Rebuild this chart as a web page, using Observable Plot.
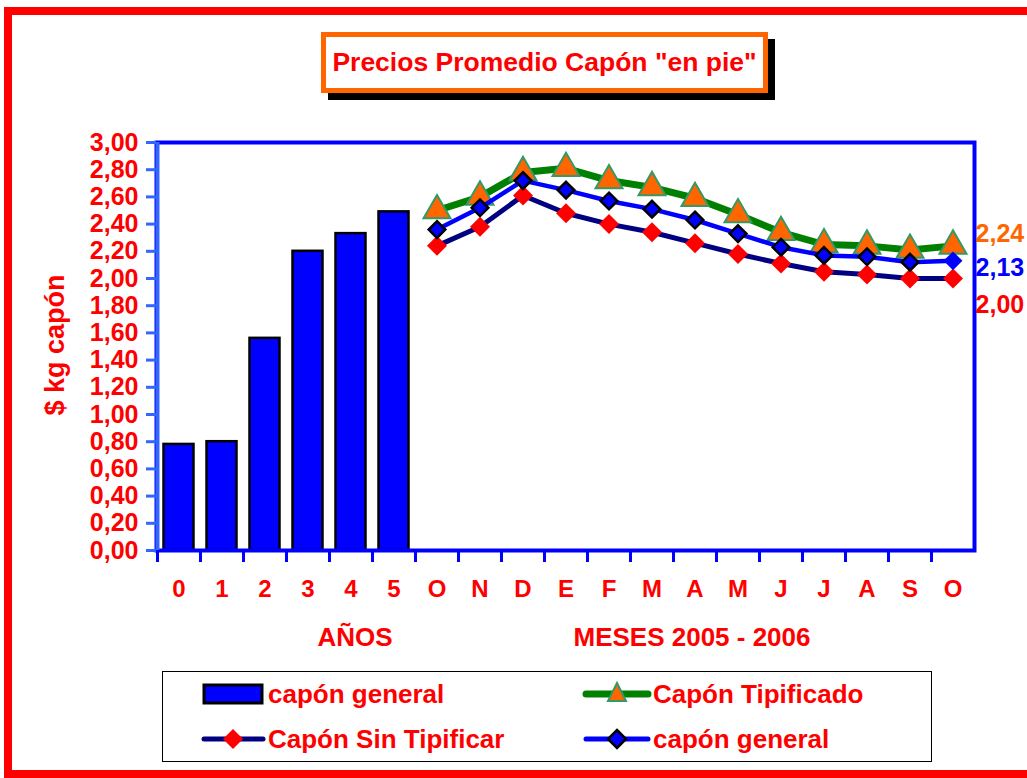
<!DOCTYPE html>
<html><head><meta charset="utf-8">
<script src="https://cdn.jsdelivr.net/npm/d3@7"></script>
<script src="https://cdn.jsdelivr.net/npm/@observablehq/plot@0.6"></script>
<style>
html,body{margin:0;padding:0;background:#fff;font-family:"Liberation Sans",Arial,sans-serif;overflow:hidden;width:1027px;height:778px}
#wrap{position:relative;width:1027px;height:778px;overflow:hidden;background:#fff}
.abs{position:absolute}
.red{position:absolute;background:#ff0000}
.lt{position:absolute;font-weight:bold;font-size:26px;color:#ff0000;white-space:nowrap;line-height:30px}
</style></head><body>
<div id="wrap">
<div id="chart" class="abs" style="left:0;top:0"></div>
<div class="red" style="left:4px;top:7px;width:1023px;height:8px;"></div>
<div class="red" style="left:4px;top:7px;width:8px;height:771px;"></div>
<div class="red" style="left:4px;top:770px;width:1023px;height:8px;"></div>
<div class="abs" style="left:321px;top:32px;width:437px;height:51px;border:5px solid #ff6600;background:#fff;box-shadow:7px 7px 0 #000;text-align:center;line-height:51px;font-weight:bold;font-size:26.5px;color:#ff0000;">Precios Promedio Capón "en pie"</div>
<div class="lt" style="left:300px;top:622px;width:110px;text-align:center;">AÑOS</div>
<div class="lt" style="left:542px;top:622px;width:300px;text-align:center;">MESES 2005 - 2006</div>
<div class="abs" style="left:-25px;top:330px;width:160px;height:30px;transform:rotate(-90deg);transform-origin:80px 15px;text-align:center;font-weight:bold;font-size:27px;line-height:30px;color:#ff0000;white-space:nowrap;">$ kg capón</div>
<div class="abs" style="left:162px;top:671px;width:768px;height:89px;border:1.5px solid #000;background:#fff;">
  <svg class="abs" style="left:0;top:0" width="768" height="89">
    <rect x="41" y="13" width="58" height="18" fill="#0000ff" stroke="#000" stroke-width="3"/>
    <line x1="423" y1="22" x2="485" y2="22" stroke="#008000" stroke-width="7" stroke-linecap="round"/>
    <path d="M454,11 L463,29 L445,29 Z" fill="#ff6600" stroke="#339966" stroke-width="2"/>
    <line x1="41" y1="67" x2="100" y2="67" stroke="#000080" stroke-width="5" stroke-linecap="round"/>
    <path d="M70,57 L80,67 L70,77 L60,67 Z" fill="#ff0000"/>
    <line x1="423" y1="67" x2="485" y2="67" stroke="#0000ff" stroke-width="5" stroke-linecap="round"/>
    <path d="M454,58 L463,67 L454,76 L445,67 Z" fill="#0000ff" stroke="#000" stroke-width="2.5"/>
  </svg>
  <div class="lt" style="left:105px;top:7px;">capón general</div>
  <div class="lt" style="left:490px;top:7px;">Capón Tipificado</div>
  <div class="lt" style="left:105px;top:52px;">Capón Sin Tipificar</div>
  <div class="lt" style="left:490px;top:52px;">capón general</div>
</div>
</div>
<script>
// ---- data ----
const xLabels = ["0","1","2","3","4","5","O","N","D","E","F","M","A","M","J","J","A","S","O"];
const years = ["0","1","2","3","4","5"];
const capGeneralBars = [0.78, 0.80, 1.56, 2.20, 2.33, 2.49];
const months = ["O","N","D","E","F","M","A","M","J","J","A","S","O"];
const capTipificado = [2.50, 2.60, 2.78, 2.81, 2.72, 2.67, 2.59, 2.47, 2.34, 2.25, 2.24, 2.21, 2.24];
const capGeneral    = [2.36, 2.52, 2.72, 2.65, 2.57, 2.51, 2.43, 2.33, 2.23, 2.17, 2.16, 2.12, 2.13];
const capSinTip     = [2.24, 2.38, 2.61, 2.48, 2.40, 2.34, 2.26, 2.18, 2.11, 2.05, 2.03, 2.00, 2.00];
const yTicks = [0,0.2,0.4,0.6,0.8,1.0,1.2,1.4,1.6,1.8,2.0,2.2,2.4,2.6,2.8,3.0];

const barRows = years.map((y, i) => ({i, v: capGeneralBars[i]}));
const monthRows = months.map((m, k) => ({i: k + years.length, tip: capTipificado[k], gen: capGeneral[k], sin: capSinTip[k]}));
const last = monthRows.filter(d => d.i === xLabels.length - 1);

const W = 1027, H = 778, mL = 156, mR = 53, mT = 142, mB = 228;
const bw = (W - mL - mR) / xLabels.length;
const fmt = d => d.toFixed(2).replace(".", ",");

const chart = Plot.plot({
  width: W, height: H,
  marginLeft: mL, marginRight: mR, marginTop: mT, marginBottom: mB,
  style: {fontFamily: "Liberation Sans, Arial, sans-serif", background: "transparent"},
  x: {type: "band", domain: d3.range(xLabels.length), padding: 0},
  y: {domain: [0, 3]},
  marks: [
    Plot.barY(barRows, {x: "i", y: "v", fill: "#0000ff", stroke: "#000", strokeWidth: 2.5, insetLeft: 6.5, insetRight: 6.5}),
    Plot.line(monthRows, {x: "i", y: "tip", stroke: "#008000", strokeWidth: 7}),
    Plot.dot(monthRows, {x: "i", y: "tip", symbol: "triangle", r: 10, fill: "#ff6600", stroke: "#339966", strokeWidth: 2}),
    Plot.line(monthRows, {x: "i", y: "sin", stroke: "#000080", strokeWidth: 5}),
    Plot.dot(monthRows, {x: "i", y: "sin", symbol: "diamond2", r: 9, fill: "#ff0000"}),
    Plot.line(monthRows, {x: "i", y: "gen", stroke: "#0000ff", strokeWidth: 4.5}),
    Plot.dot(monthRows, {x: "i", y: "gen", symbol: "diamond2", r: 7.5, fill: "#0000ff", stroke: "#000", strokeWidth: 2.5, filter: d => d.i < xLabels.length - 1}),
    Plot.dot(last, {x: "i", y: "gen", symbol: "diamond2", r: 8.5, fill: "#0000ff"}),
    Plot.frame({stroke: "#0000ff", strokeWidth: 4}),
    Plot.ruleX([0], {dx: -bw / 2, stroke: "#3366ff", strokeWidth: 4}),
    Plot.axisY({ticks: yTicks, tickFormat: fmt, tickSize: 10, tickPadding: 8, stroke: "#3366ff", strokeWidth: 3, fill: "#ff0000", fontSize: 25, fontWeight: "bold", label: null}),
    Plot.axisX({tickSize: 12, tickFormat: () => "", dx: -bw / 2, stroke: "#0000ff", strokeWidth: 3, label: null}),
    Plot.axisX({tickSize: 0, tickPadding: 29, tickFormat: i => xLabels[i], fill: "#ff0000", fontSize: 24, fontWeight: "bold", label: null}),
    Plot.text(last, {x: "i", y: "tip", text: d => fmt(d.tip), dx: bw / 2 + 1, dy: -12, textAnchor: "start", fill: "#ff6600", fontSize: 25, fontWeight: "bold"}),
    Plot.text(last, {x: "i", y: "gen", text: d => fmt(d.gen), dx: bw / 2 + 1, dy: 7, textAnchor: "start", fill: "#0000ff", fontSize: 25, fontWeight: "bold"}),
    Plot.text(last, {x: "i", y: "sin", text: d => fmt(d.sin), dx: bw / 2 + 1, dy: 26, textAnchor: "start", fill: "#ff0000", fontSize: 25, fontWeight: "bold"})
  ]
});
document.getElementById("chart").appendChild(chart);
</script>
</body></html>
